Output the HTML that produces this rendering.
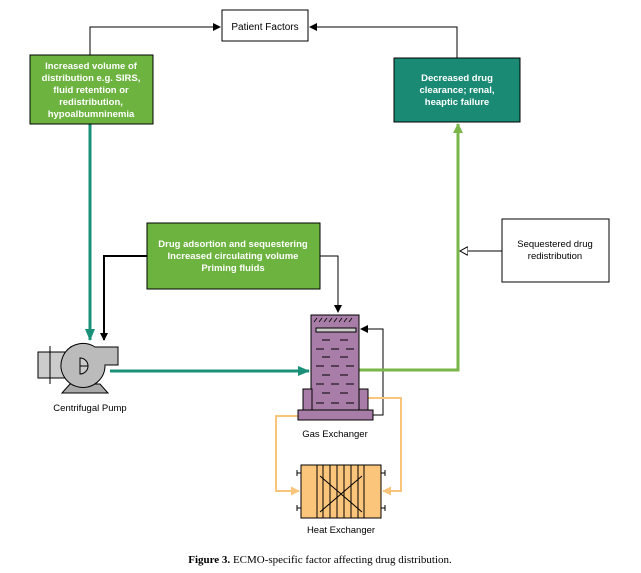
<!DOCTYPE html>
<html><head><style>body{margin:0;background:#fff}svg{display:block}</style></head><body>
<svg width="641" height="573" viewBox="0 0 641 573" xmlns="http://www.w3.org/2000/svg" font-family="Liberation Sans, sans-serif">
<defs>
<marker id="ab" markerWidth="8" markerHeight="8" refX="7" refY="4" orient="auto" markerUnits="userSpaceOnUse"><path d="M0,0 L8,4 L0,8 z" fill="#000"/></marker>
<marker id="at" markerWidth="12" markerHeight="10" refX="11" refY="5" orient="auto" markerUnits="userSpaceOnUse"><path d="M0,0 L12,5 L0,10 z" fill="#1a9079"/></marker>
<marker id="ag" markerWidth="10" markerHeight="10" refX="9" refY="5" orient="auto" markerUnits="userSpaceOnUse"><path d="M0,0 L10,5 L0,10 z" fill="#7ab648"/></marker>
<marker id="ao" markerWidth="9" markerHeight="9" refX="8" refY="4.5" orient="auto" markerUnits="userSpaceOnUse"><path d="M0,0 L9,4.5 L0,9 z" fill="#f9c57a"/></marker>
<marker id="aw" markerWidth="9" markerHeight="9" refX="8" refY="4.5" orient="auto" markerUnits="userSpaceOnUse"><path d="M0,0 L8,4.5 L0,9 z" fill="#fff" stroke="#000"/></marker>
</defs>
<!-- connectors -->
<polyline points="90,55 90,27 220,27" fill="none" stroke="#000" marker-end="url(#ab)"/>
<polyline points="457,58 457,27 310,27" fill="none" stroke="#000" marker-end="url(#ab)"/>
<line x1="90" y1="124" x2="90" y2="340" stroke="#1a9079" stroke-width="3" marker-end="url(#at)"/>
<polyline points="147,256 104,256 104,340" fill="none" stroke="#000" stroke-width="2" marker-end="url(#ab)"/>
<polyline points="320,256 338,256 338,312" fill="none" stroke="#000" marker-end="url(#ab)"/>
<polyline points="373,415 383,415 383,329 361,329" fill="none" stroke="#000" marker-end="url(#ab)"/>
<polyline points="359,370 458,370 458,124" fill="none" stroke="#7ab648" stroke-width="3" marker-end="url(#ag)"/>
<line x1="502" y1="251" x2="460" y2="251" stroke="#000" marker-end="url(#aw)"/>
<line x1="110" y1="371" x2="309" y2="371" stroke="#1a9079" stroke-width="3" marker-end="url(#at)"/>
<polyline points="298,416 276,416 276,491 299,491" fill="none" stroke="#f9c57a" stroke-width="2" marker-end="url(#ao)"/>
<polyline points="368,398 401,398 401,491 383,491" fill="none" stroke="#f9c57a" stroke-width="2" marker-end="url(#ao)"/>
<!-- boxes -->
<rect x="222" y="10" width="86" height="31" fill="#fff" stroke="#000"/>
<text x="265" y="30" font-size="10" text-anchor="middle">Patient Factors</text>
<rect x="30" y="55" width="123" height="69" fill="#6db33f" stroke="#000"/>
<g font-size="9.5" font-weight="bold" fill="#fff" text-anchor="middle"><text x="91" y="69">Increased volume of</text><text x="91" y="81">distribution e.g. SIRS,</text><text x="91" y="93">fluid retention or</text><text x="91" y="105">redistribution,</text><text x="91" y="117">hypoalbumninemia</text></g>
<rect x="394" y="58" width="126" height="64" fill="#1a8a74" stroke="#000"/>
<g font-size="9.5" font-weight="bold" fill="#fff" text-anchor="middle"><text x="457" y="81">Decreased  drug</text><text x="457" y="93">clearance; renal,</text><text x="457" y="105">heaptic failure</text></g>
<rect x="147" y="223" width="173" height="66" fill="#6db33f" stroke="#000"/>
<g font-size="9.5" font-weight="bold" fill="#fff" text-anchor="middle"><text x="233" y="247">Drug adsortion and sequestering</text><text x="233" y="259">Increased circulating volume</text><text x="233" y="271">Priming fluids</text></g>
<rect x="502" y="219" width="107" height="63" fill="#fff" stroke="#000"/>
<g font-size="9.5" text-anchor="middle"><text x="555" y="247">Sequestered drug</text><text x="555" y="259">redistribution</text></g>
<!-- pump -->
<rect x="38" y="352" width="42" height="26" fill="#ccc" stroke="#000"/>
<line x1="50" y1="346" x2="50" y2="384" stroke="#000"/><line x1="71" y1="346" x2="71" y2="384" stroke="#000"/>
<path d="M62,393 L70,384 L100,384 L108,393 z" fill="#aaa" stroke="#000"/>
<path d="M95,347 L118,347 L118,365 L105,365 A22,22 0 1 1 95,347 z" fill="#bbb" stroke="#000"/>
<path d="M80,358 A8,8 0 0 1 80,374 z" fill="#ccc" stroke="#000"/><line x1="80" y1="366" x2="88" y2="366" stroke="#000"/>
<text x="90" y="411" font-size="9.5" text-anchor="middle">Centrifugal Pump</text>
<!-- gas exchanger -->
<rect x="311" y="315" width="48" height="95" fill="#a87ea8" stroke="#000"/>
<g stroke="#000" stroke-width="0.8"><path d="M314,322l3,-4m2,4l3,-4m2,4l3,-4m2,4l3,-4m2,4l3,-4m2,4l3,-4m2,4l3,-4m2,4l3,-4"/></g>
<rect x="316" y="328" width="40" height="4" fill="#ccc" stroke="#000"/>
<g stroke="#000"><path d="M322,340h8M340,340h8M316,349h8M331,349h8M346,349h8M322,357h8M340,357h8M316,366h8M331,366h8M346,366h8M322,375h8M340,375h8M316,384h8M331,384h8M346,384h8M322,393h8M340,393h8M316,403h8M331,403h8M346,403h8"/></g>
<rect x="303" y="389" width="9" height="21" fill="#a87ea8" stroke="#000"/>
<rect x="359" y="389" width="9" height="21" fill="#a87ea8" stroke="#000"/>
<rect x="298" y="410" width="75" height="10" fill="#a87ea8" stroke="#000"/>
<text x="335" y="437" font-size="9.5" text-anchor="middle">Gas Exchanger</text>
<!-- heat exchanger -->
<rect x="301" y="465" width="80" height="53" fill="#fbc67b" stroke="#000"/>
<rect x="301" y="465" width="16" height="53" fill="#fbc67b" stroke="#000"/>
<rect x="364" y="465" width="17" height="53" fill="#fbc67b" stroke="#000"/>
<g stroke="#000"><path d="M323,465v53M330,465v53M337,465v53M344,465v53M351,465v53M358,465v53"/><path d="M320,476L362,512M362,476L320,512"/><path d="M297,470v6M297,505v6M385,470v6M385,505v6M297,473h4M297,508h4M381,473h4M381,508h4"/></g>
<text x="341" y="533" font-size="9.5" text-anchor="middle">Heat Exchanger</text>
<text x="320" y="563" font-size="11" text-anchor="middle" font-family="Liberation Serif, serif"><tspan font-weight="bold">Figure 3.</tspan> ECMO-specific factor affecting drug distribution.</text>
</svg>
</body></html>
